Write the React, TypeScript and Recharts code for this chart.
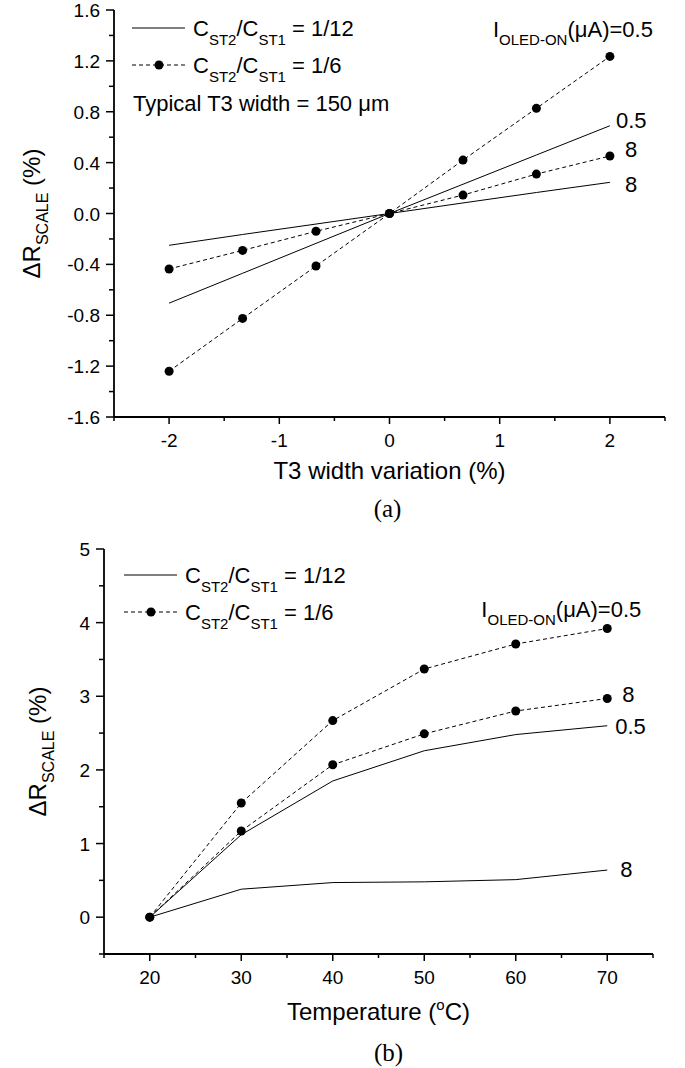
import React from "react";
import { LineChart, Line, XAxis, YAxis, Legend, Label, LabelList } from "recharts";

// (a) T3 width variation
const widthVariation = [-2, -1.333, -0.667, 0, 0.667, 1.333, 2];
const widthSolid05 = [-0.705, -0.47, -0.235, 0, 0.23, 0.46, 0.69];
const widthSolid8 = [-0.25, -0.165, -0.083, 0, 0.083, 0.165, 0.245];
const widthDashed05 = [-1.24, -0.825, -0.413, 0, 0.42, 0.827, 1.235];
const widthDashed8 = [-0.436, -0.29, -0.14, 0, 0.145, 0.31, 0.452];

// (b) temperature
const temperature = [20, 30, 40, 50, 60, 70];
const tempSolid05 = [0, 1.12, 1.85, 2.26, 2.48, 2.6];
const tempSolid8 = [0, 0.38, 0.47, 0.48, 0.51, 0.64];
const tempDashed05 = [0, 1.55, 2.67, 3.37, 3.71, 3.92];
const tempDashed8 = [0, 1.17, 2.07, 2.49, 2.8, 2.97];

// axis ticks (majors get labels)
const widthXMajor = [-2, -1, 0, 1, 2];
const widthXTicks = [-2.5, -2, -1.5, -1, -0.5, 0, 0.5, 1, 1.5, 2, 2.5];
const widthYMajor = [-1.6, -1.2, -0.8, -0.4, 0, 0.4, 0.8, 1.2, 1.6];
const widthYTicks = [-1.6, -1.4, -1.2, -1, -0.8, -0.6, -0.4, -0.2, 0, 0.2, 0.4, 0.6, 0.8, 1, 1.2, 1.4, 1.6];
const tempXMajor = [20, 30, 40, 50, 60, 70];
const tempXTicks = [15, 20, 25, 30, 35, 40, 45, 50, 55, 60, 65, 70, 75];
const tempYMajor = [0, 1, 2, 3, 4, 5];
const tempYTicks = [-0.5, 0, 0.5, 1, 1.5, 2, 2.5, 3, 3.5, 4, 4.5, 5];

const FONT = '"Liberation Sans", Arial, sans-serif';
const SERIF = '"Liberation Serif", "Times New Roman", serif';

const widthData = widthVariation.map((x, i) => ({
  x,
  s05: widthSolid05[i],
  s8: widthSolid8[i],
  d05: widthDashed05[i],
  d8: widthDashed8[i],
}));

const tempData = temperature.map((x, i) => ({
  x,
  s05: tempSolid05[i],
  s8: tempSolid8[i],
  d05: tempDashed05[i],
  d8: tempDashed8[i],
}));

const near = (a: number, b: number) => Math.abs(a - b) < 1e-6;

function xTick(majors: number[], fmt: (v: number) => string) {
  return (props: any) => {
    const { x, y, payload } = props;
    const major = majors.some((m) => near(m, payload.value));
    return (
      <g>
        <line x1={x} x2={x} y1={y} y2={y + (major ? 7 : 4)} stroke="#000" strokeWidth={1.5} />
        {major && (
          <text x={x} y={y + 30} textAnchor="middle" fontSize={19} fontFamily={FONT} fill="#000">
            {fmt(payload.value)}
          </text>
        )}
      </g>
    );
  };
}

function yTick(majors: number[], fmt: (v: number) => string) {
  return (props: any) => {
    const { x, y, payload } = props;
    const major = majors.some((m) => near(m, payload.value));
    return (
      <g>
        <line x1={x} x2={x - (major ? 8 : 5)} y1={y} y2={y} stroke="#000" strokeWidth={1.5} />
        {major && (
          <text x={x - 14} y={y + 7} textAnchor="end" fontSize={19} fontFamily={FONT} fill="#000">
            {fmt(payload.value)}
          </text>
        )}
      </g>
    );
  };
}

// text drawn next to the last point of a series
function endLabel(count: number, draw: (x: number, y: number) => React.ReactNode) {
  return (props: any) => {
    if (props.index !== count - 1) return null;
    const x = props.viewBox?.x ?? props.x;
    const y = props.viewBox?.y ?? props.y;
    return <g>{draw(x, y)}</g>;
  };
}

const plain = (dx: number, dy: number, s: string) => (x: number, y: number) => (
  <text x={x + dx} y={y + dy} fontSize={22} fontFamily={FONT} fill="#000">
    {s}
  </text>
);

const currentLabel = (dx: number, dy: number) => (x: number, y: number) => (
  <text x={x + dx} y={y + dy} textAnchor="end" fontSize={22} fontFamily={FONT} fill="#000">
    I<tspan fontSize={15} dy={8}>OLED-ON</tspan>
    <tspan dy={-8}>(μA)=0.5</tspan>
  </text>
);

function Ratio({ x, y, ratio }: { x: number; y: number; ratio: string }) {
  return (
    <text x={x} y={y} fontSize={22} fontFamily={FONT} fill="#000">
      C<tspan fontSize={15} dy={9}>ST2</tspan>
      <tspan dy={-9}>/C</tspan>
      <tspan fontSize={15} dy={9}>ST1</tspan>
      <tspan dy={-9}>{` = ${ratio}`}</tspan>
    </text>
  );
}

function legendContent(x0: number, y1: number, y2: number, note?: { x: number; y: number }) {
  return () => (
    <svg width={685} height={130} style={{ display: "block" }}>
      <line x1={x0} x2={x0 + 53} y1={y1} y2={y1} stroke="#000" strokeWidth={1} />
      <Ratio x={x0 + 61} y={y1 + 8} ratio="1/12" />
      <line x1={x0} x2={x0 + 53} y1={y2} y2={y2} stroke="#000" strokeWidth={1} strokeDasharray="4 3" />
      <circle cx={x0 + 27} cy={y2} r={4.5} fill="#000" />
      <Ratio x={x0 + 61} y={y2 + 8} ratio="1/6" />
      {note && (
        <text x={note.x} y={note.y} fontSize={22} fontFamily={FONT} fill="#000">
          Typical T3 width = 150 μm
        </text>
      )}
    </svg>
  );
}

const yTitle = (bx: number) => (props: any) => {
  const vb = props.viewBox;
  const cy = vb.y + vb.height / 2;
  return (
    <text
      transform={`translate(${bx},${cy}) rotate(-90)`}
      textAnchor="middle"
      fontSize={24}
      fontFamily={FONT}
      fill="#000"
    >
      ΔR<tspan fontSize={16} dy={8}>SCALE</tspan>
      <tspan dy={-8}> (%)</tspan>
    </text>
  );
};

const xTitle = (title: React.ReactNode, titleDy: number, caption: string, capDx: number, capDy: number) => (props: any) => {
  const vb = props.viewBox;
  const cx = vb.x + vb.width / 2;
  return (
    <g>
      <text x={cx} y={vb.y + titleDy} textAnchor="middle" fontSize={24} fontFamily={FONT} fill="#000">
        {title}
      </text>
      <text x={cx + capDx} y={vb.y + capDy} textAnchor="middle" fontSize={25} fontFamily={SERIF} fill="#000">
        {caption}
      </text>
    </g>
  );
};

const dashedProps = {
  stroke: "#000",
  strokeWidth: 1,
  strokeDasharray: "4 3",
  dot: { r: 4.5, fill: "#000", stroke: "#000", strokeWidth: 0, strokeDasharray: "0" },
  activeDot: false as const,
  isAnimationActive: false,
};

const solidProps = {
  stroke: "#000",
  strokeWidth: 1,
  dot: false as const,
  activeDot: false as const,
  isAnimationActive: false,
};

export default function App() {
  return (
    <div style={{ position: "absolute", left: 0, top: 0, width: 685, height: 1068, background: "#fff" }}>
      <div style={{ position: "absolute", left: 0, top: 0 }}>
        <LineChart width={685} height={524} data={widthData} margin={{ top: 10, right: 20, left: 0, bottom: 0 }}>
          <XAxis
            dataKey="x"
            type="number"
            domain={[-2.5, 2.5]}
            ticks={widthXTicks}
            interval={0}
            tickLine={false}
            tickSize={0}
            tickMargin={0}
            height={107}
            axisLine={{ stroke: "#000", strokeWidth: 1.8 }}
            tick={xTick(widthXMajor, (v) => String(v))}
          >
            <Label content={xTitle("T3 width variation (%)", 62, "(a)", -2, 100)} />
          </XAxis>
          <XAxis xAxisId="top" orientation="top" type="number" domain={[-2.5, 2.5]} height={0} tick={false} tickLine={false} axisLine={{ stroke: "#000", strokeWidth: 1 }} />
          <YAxis
            type="number"
            domain={[-1.6, 1.6]}
            ticks={widthYTicks}
            interval={0}
            tickLine={false}
            tickSize={0}
            tickMargin={0}
            width={114}
            axisLine={{ stroke: "#000", strokeWidth: 1.8 }}
            tick={yTick(widthYMajor, (v) => v.toFixed(1))}
          >
            <Label content={yTitle(40)} />
          </YAxis>
          <YAxis yAxisId="right" orientation="right" type="number" domain={[-1.6, 1.6]} width={0} tick={false} tickLine={false} axisLine={{ stroke: "#444", strokeWidth: 1 }} />
          <Legend
            layout="vertical"
            align="center"
            verticalAlign="middle"
            wrapperStyle={{ position: "absolute", left: 0, top: 0, width: 685, height: 130 }}
            content={legendContent(132, 28, 65, { x: 133, y: 111 })}
          />
          <Line dataKey="s05" {...solidProps}>
            <LabelList content={endLabel(widthVariation.length, plain(6, 2, "0.5"))} />
          </Line>
          <Line dataKey="s8" {...solidProps}>
            <LabelList content={endLabel(widthVariation.length, plain(15, 10, "8"))} />
          </Line>
          <Line dataKey="d05" {...dashedProps}>
            <LabelList content={endLabel(widthVariation.length, currentLabel(43, -19))} />
          </Line>
          <Line dataKey="d8" {...dashedProps}>
            <LabelList content={endLabel(widthVariation.length, plain(15, 1, "8"))} />
          </Line>
        </LineChart>
      </div>

      <div style={{ position: "absolute", left: 0, top: 520 }}>
        <LineChart width={685} height={548} data={tempData} margin={{ top: 29, right: 32, left: 0, bottom: 0 }}>
          <XAxis
            dataKey="x"
            type="number"
            domain={[15, 75]}
            ticks={tempXTicks}
            interval={0}
            tickLine={false}
            tickSize={0}
            tickMargin={0}
            height={114}
            axisLine={{ stroke: "#000", strokeWidth: 1.8 }}
            tick={xTick(tempXMajor, (v) => String(v))}
          >
            <Label
              content={xTitle(
                <>
                  Temperature (<tspan fontSize={15} dy={-10}>o</tspan>
                  <tspan dy={10}>C)</tspan>
                </>,
                66,
                "(b)",
                10,
                107
              )}
            />
          </XAxis>
          <XAxis xAxisId="top" orientation="top" type="number" domain={[15, 75]} height={0} tick={false} tickLine={false} axisLine={{ stroke: "#808080", strokeWidth: 1.2 }} />
          <YAxis
            type="number"
            domain={[-0.5, 5]}
            ticks={tempYTicks}
            interval={0}
            tickLine={false}
            tickSize={0}
            tickMargin={0}
            width={104}
            axisLine={{ stroke: "#000", strokeWidth: 1.8 }}
            tick={yTick(tempYMajor, (v) => String(v))}
          >
            <Label content={yTitle(46)} />
          </YAxis>
          <YAxis yAxisId="right" orientation="right" type="number" domain={[-0.5, 5]} width={0} tick={false} tickLine={false} axisLine={{ stroke: "#808080", strokeWidth: 1.2 }} />
          <Legend
            layout="vertical"
            align="center"
            verticalAlign="middle"
            wrapperStyle={{ position: "absolute", left: 0, top: 0, width: 685, height: 130 }}
            content={legendContent(124, 55, 92)}
          />
          <Line dataKey="s05" {...solidProps}>
            <LabelList content={endLabel(temperature.length, plain(8, 8, "0.5"))} />
          </Line>
          <Line dataKey="s8" {...solidProps}>
            <LabelList content={endLabel(temperature.length, plain(13, 7, "8"))} />
          </Line>
          <Line dataKey="d05" {...dashedProps}>
            <LabelList content={endLabel(temperature.length, currentLabel(34, -12))} />
          </Line>
          <Line dataKey="d8" {...dashedProps}>
            <LabelList content={endLabel(temperature.length, plain(15, 4, "8"))} />
          </Line>
        </LineChart>
      </div>
    </div>
  );
}
